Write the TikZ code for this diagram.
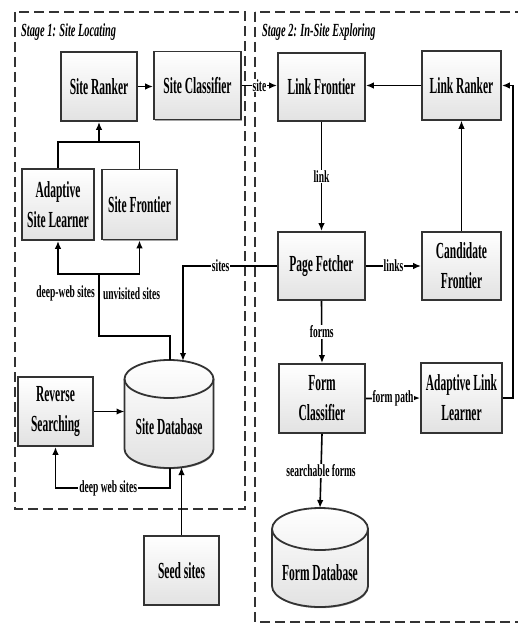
\documentclass[tikz,border=0pt]{standalone}
\usepackage{fontspec}
\setmainfont{Liberation Serif}[FakeStretch=0.56]
\newfontfamily\boxfamily{Liberation Serif}[FakeStretch=0.5]
\usetikzlibrary{arrows.meta,shadows}
\definecolor{framegray}{HTML}{333333}
\definecolor{boxgray}{HTML}{E2E2E2}
\newcommand{\boxfont}{\boxfamily\fontsize{23}{30}\selectfont\bfseries}
\newcommand{\lblfont}{\fontsize{17}{19}\selectfont\bfseries}
\tikzset{
  fillshade/.style={draw=framegray, line width=1.8pt, top color=white, bottom color=boxgray,
    drop shadow={shadow xshift=0.6pt, shadow yshift=-1.2pt, fill=black!70, opacity=0.5}},
  box/.style={fillshade, align=center, font=\boxfont, inner sep=2pt},
  dbnode/.style={inner sep=0pt, outer sep=0pt},
  dbtext/.style={font=\boxfont, inner sep=0pt},
  lbl/.style={fill=white, inner sep=1pt, font=\lblfont},
  stage/.style={draw=framegray, line width=2.6pt, dash pattern=on 10pt off 5pt},
}

\begin{document}
\begin{tikzpicture}[x=1pt, y=-1pt, >={Latex[length=8pt,width=6.5pt]}, line width=1.6pt]
  \useasboundingbox (0,0) rectangle (518,623);
  % stage frames
  \draw[stage] (15,12) rectangle (245,509);
  \draw[stage] (255,12) rectangle (545,622);
  \node[anchor=west, font=\fontsize{18.5}{20}\selectfont\bfseries\itshape] (title1) at (17,32) {Stage 1: Site Locating};
  \node[anchor=west, font=\fontsize{18.5}{20}\selectfont\bfseries\itshape] (title2) at (258,32) {Stage 2: In-Site Exploring};

  % stage 1
  \node[box, minimum width=76pt, minimum height=69pt] (ranker) at (99,86.5) {Site Ranker};
  \node[box, minimum width=87pt, minimum height=68pt] (classifier) at (197.5,85.5) {Site Classifier};
  \node[box, minimum width=72pt, minimum height=71pt] (learner) at (58,204.5) {Adaptive\\Site Learner};
  \node[box, minimum width=75pt, minimum height=70pt] (sitefrontier) at (139.5,204.5) {Site Frontier};
  \node[dbnode, minimum width=89pt, minimum height=108pt] (sitedb) at (169,414) {};
  \node[box, minimum width=75pt, minimum height=69pt] (reverse) at (55.5,411.5) {Reverse\\Searching};
  \node[box, minimum width=75pt, minimum height=69pt] (seed) at (181.5,570.5) {Seed sites};

  % stage 2
  \node[box, minimum width=87pt, minimum height=68pt] (linkfrontier) at (321.5,87) {Link Frontier};
  \node[box, minimum width=79pt, minimum height=69pt] (linkranker) at (461.5,85.5) {Link Ranker};
  \node[box, minimum width=87pt, minimum height=68pt] (fetcher) at (321.5,266) {Page Fetcher};
  \node[box, minimum width=79pt, minimum height=68pt] (candidate) at (461.5,266) {Candidate\\Frontier};
  \node[box, minimum width=86pt, minimum height=69pt] (formclassifier) at (322,398.5) {Form\\Classifier};
  \node[box, minimum width=81pt, minimum height=70pt] (linklearner) at (461.5,398) {Adaptive Link\\Learner};
  \node[dbnode, minimum width=96pt, minimum height=99pt] (formdb) at (320,557.5) {};

  % database cylinders
  \foreach \db/\rx/\ry in {sitedb/44.5/19, formdb/48/21} {
    \draw[fillshade] ([yshift=-\ry pt]\db.north west) -- ([yshift=\ry pt]\db.south west)
      arc[start angle=180, end angle=0, x radius=\rx, y radius=\ry]
      -- ([yshift=-\ry pt]\db.north east)
      arc[start angle=0, end angle=-180, x radius=\rx, y radius=\ry] -- cycle;
    \draw[framegray, line width=1.8pt] ([yshift=-\ry pt]\db.north west)
      arc[start angle=180, end angle=0, x radius=\rx, y radius=\ry];
  }
  \node[dbtext] (sitedbtext) at ([yshift=-13pt]sitedb.center) {Site Database};
  \node[dbtext] (formdbtext) at ([yshift=-15pt]formdb.center) {Form Database};

  \coordinate (join) at (99,142);
  \coordinate (fork) at (99,274);
  \coordinate (dbturn) at (99,336);
  \coordinate (loopR) at (513,0);

  % stage 1 connectors
  \draw[->] (ranker.east) -- (ranker.east -| classifier.west);
  \draw (learner.north) |- (join) -| (sitefrontier.north);
  \draw[->] (join) -- (ranker.south);
  \draw ([xshift=1pt]sitedb.north) |- (dbturn) -- node[pos=0.68, left, font=\lblfont] {deep-web sites}
    node[pos=0.68, right, font=\lblfont] {unvisited sites} (fork);
  \draw[->] (fork) -| (learner.south);
  \draw[->] (fork) -| (sitefrontier.south);
  \draw[->] (reverse.east) -- (reverse.east -| sitedb.west);
  \draw[->] ([xshift=1pt]sitedb.south) -- ++(0,20) -| node[lbl, pos=0.27] {deep web sites} (reverse.south);
  \draw[->] (seed.north) -- ([yshift=1pt]seed.north |- sitedb.south);

  % stage 2 connectors
  \draw[->] (classifier.east) -- node[lbl] {site} (classifier.east -| linkfrontier.west);
  \draw[->] (linkranker.west) -- (linkranker.west -| linkfrontier.east);
  \draw[->] (linkfrontier.south) -- node[lbl] {link} (fetcher.north);
  \draw[->] (fetcher.east) -- node[lbl] {links} (candidate.west);
  \draw[->, line width=0.9pt] (candidate.north) -- (linkranker.south);
  \draw[->] (linklearner.east) -- (linklearner.east -| loopR) -- (linkranker.east -| loopR) -- (linkranker.east);
  \draw[->] (fetcher.south) -- node[lbl] {forms} (formclassifier.north);
  \draw[->] (formclassifier.east) -- node[lbl] {form path} (linklearner.west);
  \draw[->] (formclassifier.south) -- node[lbl] {searchable forms} (formdb.north);
  \draw[->] (fetcher.west) -| node[lbl, pos=0.3] {sites} ([shift={(14pt,-1pt)}]sitedb.north);
\end{tikzpicture}
\end{document}
